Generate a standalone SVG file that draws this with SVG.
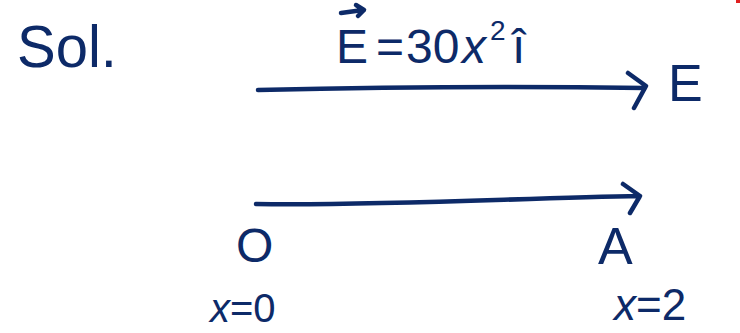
<svg xmlns="http://www.w3.org/2000/svg" width="740" height="333" viewBox="0 0 740 333">
<style>
.t{font-family:"Liberation Sans","DejaVu Sans",sans-serif;fill:#0d2a68;}
.s{fill:none;stroke:#0d2a68;stroke-width:4.5;stroke-linecap:round;stroke-linejoin:round;}
</style>
<rect width="740" height="333" fill="#ffffff"/>
<rect x="736" y="0" width="4" height="3" fill="#e02020"/>
<g id="sol"><text class="t" x="17" y="67" font-size="60" textLength="100" lengthAdjust="spacingAndGlyphs">Sol.</text></g>
<g id="equation">
<text class="t" x="336" y="63" font-size="48">E</text>
<text class="t" x="376" y="63" font-size="48">=</text>
<text class="t" x="406" y="63" font-size="48">30</text>
<text class="t" x="462" y="63" font-size="48" font-style="italic">x</text>
<text class="t" x="490" y="40" font-size="28">2</text>
<text class="t" x="512" y="63" font-size="48">î</text>
<path class="s" d="M341 13 L363 10 M356 5 L364 10 L358 16"/>
</g>
<g id="connectors">
<path class="s" d="M258 90 C380 87 520 86 645 88 M628 73 L646 86 L634 108"/>
<path class="s" d="M256 204 C380 206 520 198 640 196 M623 184 L640 196 L630 213"/>
</g>
<g id="labelE"><text class="t" x="668" y="101" font-size="52">E</text></g>
<g id="nodeO"><text class="t" x="236" y="262" font-size="48">O</text></g>
<g id="nodeA"><text class="t" x="598" y="264" font-size="52">A</text></g>
<g id="x0"><text class="t" x="210" y="322" font-size="40"><tspan font-style="italic">x</tspan>=0</text></g>
<g id="x2"><text class="t" x="614" y="320" font-size="44"><tspan font-style="italic">x</tspan>=2</text></g>
</svg>
